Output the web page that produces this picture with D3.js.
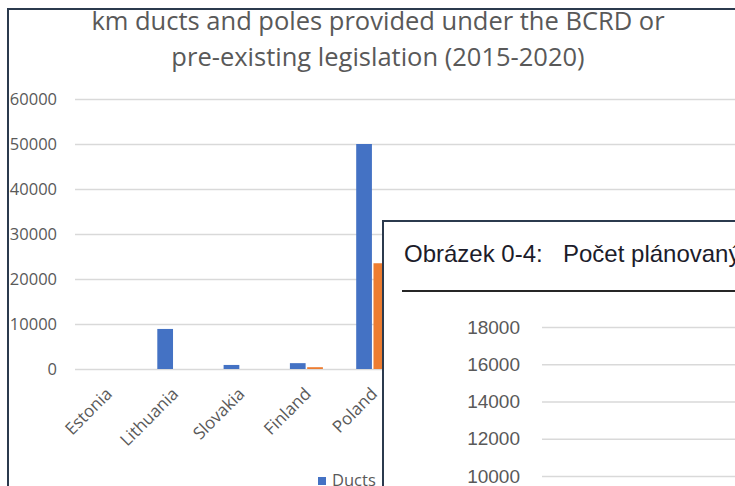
<!DOCTYPE html>
<html>
<head>
<meta charset="utf-8">
<script src="https://cdn.jsdelivr.net/npm/d3@7"></script>
<style>
  body { margin: 0; background: #fff; }
  svg { display: block; }
</style>
</head>
<body>
<svg id="chart" width="735" height="486"></svg>
<script>
// main chart data
const categories = ['Estonia', 'Lithuania', 'Slovakia', 'Finland', 'Poland'];
const seriesNames = ['Ducts', 'Poles'];
const ducts = [0, 8900, 900, 1300, 50000];
const poles = [0, 0, 0, 400, 23500];
const yTicks = [0, 10000, 20000, 30000, 40000, 50000, 60000];
const titleLines = ['km ducts and poles provided under the BCRD or', 'pre-existing legislation (2015-2020)'];

// pasted-over figure
const insetTitle = ['Obrázek 0-4:', 'Počet plánovaných'];
const insetTicks = [10000, 12000, 14000, 16000, 18000];

const colors = ['#4472c4', '#ed7d31'];
const mainFont = '"Open Sans", sans-serif';
const insetFont = '"Liberation Sans", Arial, sans-serif';

const svg = d3.select('#chart');
svg.append('rect').attr('width', 735).attr('height', 486).attr('fill', '#fff');

// ---- main chart ----
const main = svg.append('g');
main.append('rect')
	.attr('x', 8).attr('y', 9)
	.attr('width', 900).attr('height', 600)
	.attr('fill', 'none')
	.attr('stroke', '#2b3a4e')
	.attr('stroke-width', 2);

main.selectAll('.title').data(titleLines).join('text')
	.attr('class', 'title')
	.attr('x', 378)
	.attr('y', (d, i) => 30 + i * 36)
	.attr('text-anchor', 'middle')
	.style('font-family', mainFont)
	.style('font-size', '25.5px')
	.style('fill', '#595959')
	.text(d => d);

const y = d3.scaleLinear().domain([0, 60000]).range([369, 99]);
const step = 66.3;
const x = d3.scaleBand().domain(categories).range([75, 75 + step * categories.length]);
const xSub = d3.scaleBand().domain(seriesNames).range([16, 49]).paddingInner(0.09);

const yAxis = main.append('g')
	.attr('transform', 'translate(75,0)')
	.call(d3.axisLeft(y).tickValues(yTicks).tickSize(-660).tickPadding(18).tickFormat(d3.format('d')));
yAxis.select('.domain').remove();
yAxis.selectAll('.tick line').attr('stroke', '#d9d9d9').attr('stroke-width', 1.5);
yAxis.selectAll('.tick text')
	.style('font-family', mainFont)
	.style('font-size', '16.5px')
	.style('fill', '#595959');

const rows = categories.map((c, i) => ({ cat: c, values: [ducts[i], poles[i]] }));
const groups = main.selectAll('.grp').data(rows).join('g')
	.attr('class', 'grp')
	.attr('transform', d => `translate(${x(d.cat)},0)`);
groups.selectAll('rect')
	.data(d => d.values.map((v, j) => ({ name: seriesNames[j], v, j })))
	.join('rect')
	.attr('x', d => xSub(d.name))
	.attr('width', xSub.bandwidth())
	.attr('y', d => y(d.v))
	.attr('height', d => y(0) - y(d.v))
	.attr('fill', d => colors[d.j]);

main.selectAll('.xlab').data(categories).join('text')
	.attr('class', 'xlab')
	.attr('transform', d => `translate(${x(d) + x.bandwidth() / 2 + 5},395) rotate(-45)`)
	.attr('text-anchor', 'end')
	.style('font-family', mainFont)
	.style('font-size', '17px')
	.style('fill', '#595959')
	.text(d => d);

const legend = main.selectAll('.leg').data(seriesNames).join('g')
	.attr('class', 'leg')
	.attr('transform', (d, i) => `translate(${318 + i * 72},477)`);
legend.append('rect').attr('width', 8).attr('height', 8).attr('fill', (d, i) => colors[i]);
legend.append('text')
	.attr('x', 14).attr('y', 9)
	.style('font-family', mainFont)
	.style('font-size', '16.5px')
	.style('fill', '#595959')
	.text(d => d);

// ---- figure pasted on top ----
const inset = svg.append('g');
inset.append('rect')
	.attr('x', 383).attr('y', 221)
	.attr('width', 500).attr('height', 400)
	.attr('fill', '#fff')
	.attr('stroke', '#2b3a4e')
	.attr('stroke-width', 2);

inset.selectAll('.ititle').data(insetTitle).join('text')
	.attr('class', 'ititle')
	.attr('x', (d, i) => i === 0 ? 404 : 563)
	.attr('y', 262)
	.style('font-family', insetFont)
	.style('font-size', '24px')
	.style('fill', '#1c1c2a')
	.text(d => d);

inset.append('line')
	.attr('x1', 402).attr('x2', 735)
	.attr('y1', 291).attr('y2', 291)
	.attr('stroke', '#262626')
	.attr('stroke-width', 2);

const yInset = d3.scaleLinear().domain([10000, 18000]).range([476, 327]);
const insetAxis = inset.append('g')
	.attr('transform', 'translate(542,0)')
	.call(d3.axisLeft(yInset).tickValues(insetTicks).tickSize(-200).tickPadding(22).tickFormat(d3.format('d')));
insetAxis.select('.domain').remove();
insetAxis.selectAll('.tick line').attr('stroke', '#d9d9d9').attr('stroke-width', 1.5);
insetAxis.selectAll('.tick text')
	.style('font-family', insetFont)
	.style('font-size', '19px')
	.style('fill', '#595959');
</script>
</body>
</html>
